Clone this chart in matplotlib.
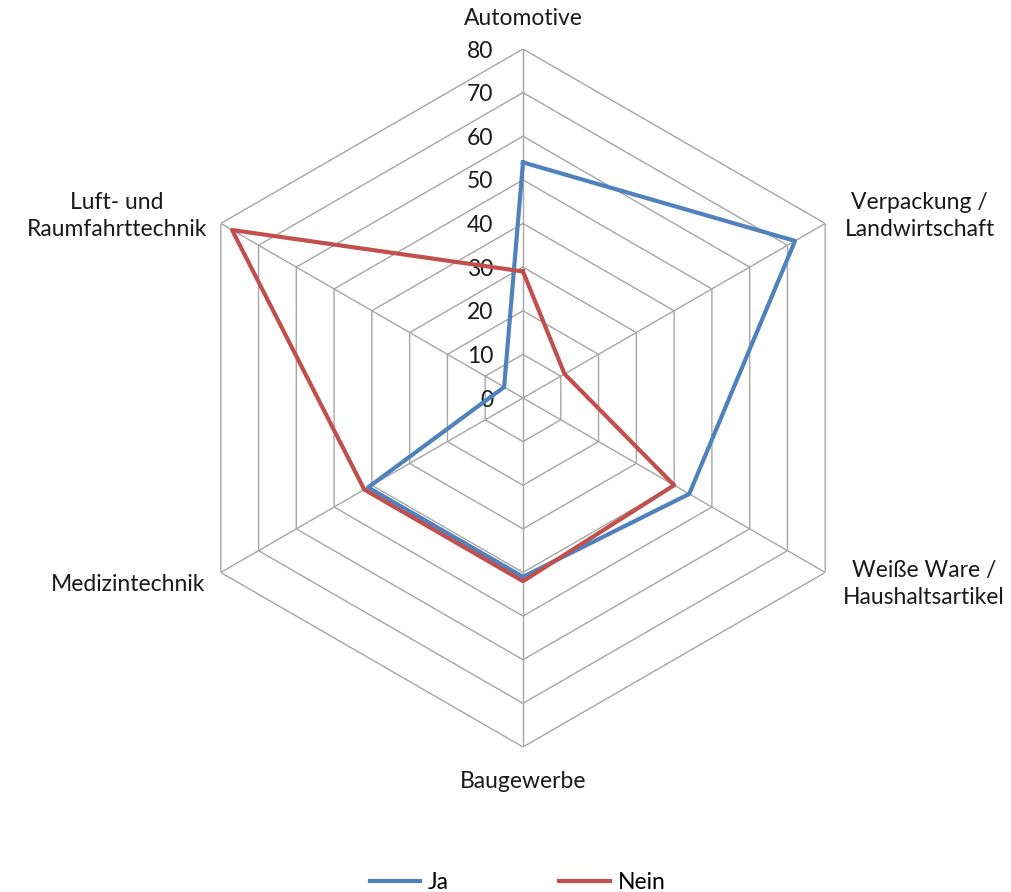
import numpy as np
import matplotlib
matplotlib.use("Agg")
import matplotlib.pyplot as plt

plt.rcParams['font.family'] = ['Lato', 'DejaVu Sans']

# Kategorien im Uhrzeigersinn, beginnend oben
categories = [
    "Automotive",
    "Verpackung /\nLandwirtschaft",
    "Weiße Ware /\nHaushaltsartikel",
    "Baugewerbe",
    "Medizintechnik",
    "Luft- und\nRaumfahrttechnik",
]
ja = [54, 72, 44, 41, 41, 5]
nein = [29, 11, 40, 42, 42, 77]
r_ticks = [0, 10, 20, 30, 40, 50, 60, 70, 80]

blue = "#4F81BD"
red = "#C0504D"
grid_col = "#A6A6A6"
txt_col = "#1a1a1a"
fs = 16.5

fig = plt.figure(figsize=(10.11, 8.92), dpi=100)
ax = fig.add_axes([0.1721, 0.1626, 0.6904, 0.7825], projection="polar")
ax.set_theta_zero_location("N")
ax.set_theta_direction(-1)
ax.set_ylim(0, 80)
ax.grid(False)
ax.spines["polar"].set_visible(False)
ax.set_xticks([])
ax.set_yticks([])
ax.patch.set_visible(False)

n = len(categories)
theta = np.linspace(0, 2 * np.pi, n, endpoint=False)
theta_closed = np.append(theta, theta[0])

# Sechseckiges Gitter
for r in r_ticks[1:]:
    ax.plot(theta_closed, [r] * (n + 1), color=grid_col, lw=1.0, zorder=1)
for t in theta:
    ax.plot([t, t], [0, 80], color=grid_col, lw=1.0, zorder=1)

# Achsenbeschriftung 0..80 links der senkrechten Achse
for r in r_ticks:
    ax.annotate(str(r), xy=(0, r), xytext=(-21.5, -1.5), textcoords="offset points",
                ha="right", va="center", fontsize=fs, color=txt_col)

# Datenreihen
ax.plot(theta_closed, ja + ja[:1], color=blue, lw=3.0, zorder=3, label="Ja")
ax.plot(theta_closed, nein + nein[:1], color=red, lw=3.0, zorder=4, label="Nein")

# Kategoriebeschriftungen
offsets = [(0, 22, "center"), (14, 5.4, "left"), (13, -8.3, "left"),
           (0, -25, "center"), (-11.5, -9, "right"), (-10, 5.4, "right")]
for t, lab, (dx, dy, ha) in zip(theta, categories, offsets):
    ax.annotate(lab, xy=(t, 80), xytext=(dx, dy), textcoords="offset points",
                ha=ha, va="center", fontsize=fs, color=txt_col,
                multialignment="center", linespacing=1.3)

fig.legend(loc="lower center", bbox_to_anchor=(0.512, -0.024), ncol=2, frameon=False,
           fontsize=fs, handlelength=2.2, handletextpad=0.35, columnspacing=4.8)

fig.savefig("out.png", dpi=100, facecolor="white")
